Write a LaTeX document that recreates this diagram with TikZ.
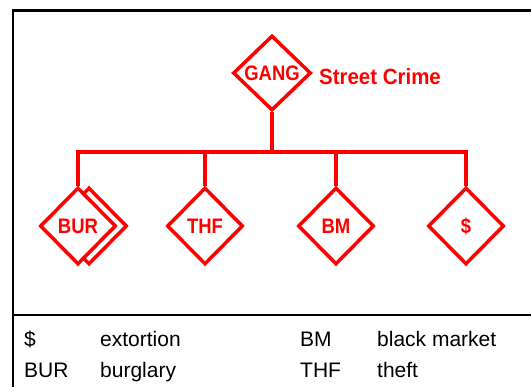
\documentclass[tikz,border=0pt]{standalone}
\usepackage{fontspec}
\setmainfont{Liberation Sans}
\newfontfamily\condfont[FakeStretch=0.88]{Liberation Sans}
\newfontfamily\titlefont[FakeStretch=0.93]{Liberation Sans}
\usetikzlibrary{shapes.geometric}
\definecolor{crimered}{RGB}{255,0,0}
\begin{document}
\begin{tikzpicture}[x=1pt,y=-1pt,
  frame/.style={draw=black,line width=2.5pt},
  crimebox/.style={shape=diamond,draw=crimered,fill=white,line width=3.5pt,inner sep=0pt,
    minimum width=76pt,minimum height=77pt,text=crimered,
    font=\condfont\bfseries\fontsize{21}{24}\selectfont},
  link/.style={draw=crimered,line width=4pt},
  legend/.style={anchor=base west,inner sep=0pt,font=\fontsize{21}{24}\selectfont}]
\useasboundingbox (0,0) rectangle (531,387);
% frame
\draw[frame] (13,387) -- (13,10.5) -- (531,10.5);
\draw[frame] (12,315) -- (531,315);
% nodes
\node[crimebox,minimum width=78pt,minimum height=75pt] (gang) at (272,73) {GANG};
\node[anchor=west,inner sep=0pt,text=crimered,font=\titlefont\bfseries\fontsize{22}{26}\selectfont] (title) at (319,77) {Street Crime};
\node[crimebox] (burback) at (89,226) {};
\node[crimebox] (bur) at (78,226) {BUR};
\node[crimebox] (thf) at (205,226) {THF};
\node[crimebox] (bm) at (336,226) {BM};
\node[crimebox] (ext) at (466,226) {\$};
% connectors
\coordinate (bus) at (272,152);
\draw[link] (gang.south) -- (bus);
\draw[link] (bus) -| (bur.north);
\draw[link] (bus) -| (thf.north);
\draw[link] (bus) -| (bm.north);
\draw[link] (bus) -| (ext.north);
% legend
\node[legend] (l1a) at (24,347) {\$};
\node[legend] (l1b) at (100,347) {extortion};
\node[legend] (l1c) at (300,347) {BM};
\node[legend] (l1d) at (377,347) {black market};
\node[legend] (l2a) at (24,378) {BUR};
\node[legend] (l2b) at (100,378) {burglary};
\node[legend] (l2c) at (300,378) {THF};
\node[legend] (l2d) at (377,378) {theft};
\end{tikzpicture}
\end{document}
